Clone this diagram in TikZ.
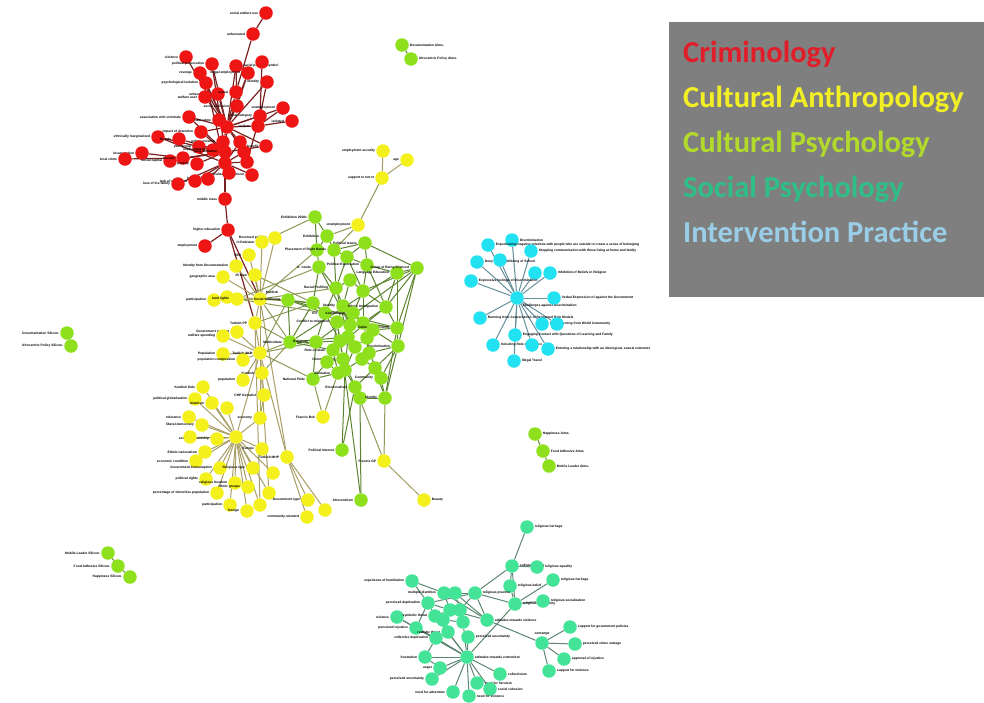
\documentclass[tikz,border=0pt]{standalone}
\usepackage{fontspec}
\setmainfont{Liberation Sans}
\newfontfamily\legfont{Carlito}
\pgfdeclarelayer{bg}
\pgfsetlayers{bg,main}
\definecolor{nred}{HTML}{EE1515}
\definecolor{nyel}{HTML}{F4F01C}
\definecolor{ngrn}{HTML}{8EE01C}
\definecolor{ncya}{HTML}{22E2F2}
\definecolor{ntea}{HTML}{44E498}
\definecolor{ered}{HTML}{7A2222}
\definecolor{eyel}{HTML}{A89E66}
\definecolor{egrn}{HTML}{5C8430}
\definecolor{emix}{HTML}{8C9A56}
\definecolor{ecya}{HTML}{66909C}
\definecolor{etea}{HTML}{5E8672}
\definecolor{legbg}{HTML}{7F7F7F}
\definecolor{lred}{HTML}{E01E2A}
\definecolor{lyel}{HTML}{F2F024}
\definecolor{lgrn}{HTML}{B2DA2C}
\definecolor{ltea}{HTML}{30BE88}
\definecolor{lblu}{HTML}{9ACEE6}
\tikzset{
 nd/.style={circle,inner sep=0pt,minimum size=13.5pt,draw=none},
 rn/.style={nd,fill=nred}, yn/.style={nd,fill=nyel}, gn/.style={nd,fill=ngrn},
 cn/.style={nd,fill=ncya}, tn/.style={nd,fill=ntea},
 lab/.style={font=\fontsize{3.3}{3.6}\selectfont\bfseries,text=black,inner sep=0.3pt,label distance=0.5pt},
 re/.style={draw=ered,line width=1.2pt}, ye/.style={draw=eyel,line width=1pt},
 ge/.style={draw=egrn,line width=1pt}, me/.style={draw=emix,line width=1pt},
 ce/.style={draw=ecya,line width=1pt}, te/.style={draw=etea,line width=1pt},
 legtxt/.style={anchor=base west,inner sep=0pt,font=\legfont\bfseries\fontsize{30.5}{32}\selectfont}
}
\newcommand\mk[6]{\node[#1,label={[lab]#5:#6}] (#2) at (#3,#4) {};}
\begin{document}
\begin{tikzpicture}[x=1pt,y=-1pt]
\useasboundingbox (0,0) rectangle (984,702);
\begin{pgfonlayer}{bg}
\fill[white] (0,0) rectangle (984,702);
\end{pgfonlayer}
% ---------- legend ----------
\node[fill=legbg,minimum width=315pt,minimum height=275pt,anchor=north west,inner sep=0pt] (legbox) at (669,22) {};
\node[legtxt,text=lred] (lg1) at (683,62) {Criminology};
\node[legtxt,text=lyel] (lg2) at (683,107) {Cultural Anthropology};
\node[legtxt,text=lgrn] (lg3) at (683,152) {Cultural Psychology};
\node[legtxt,text=ltea] (lg4) at (683,197) {Social Psychology};
\node[legtxt,text=lblu] (lg5) at (683,242) {Intervention Practice};
% ---------- red ----------
\mk{rn}{r1}{266}{13}{left}{social welfare use}
\mk{rn}{r2}{253}{34}{left}{unfavoured}
\mk{rn}{r3}{186}{57}{left}{violence}
\mk{rn}{r4}{212}{64}{left}{political persecution}
\mk{rn}{r5}{236}{66}{right}{racial political symbol}
\mk{rn}{r6}{262}{62}{left}{}
\mk{rn}{r7}{200}{73}{left}{revenge}
\mk{rn}{r8}{248}{73}{left}{illegal employment}
\mk{rn}{r9}{206}{83}{left}{psychological isolation}
\mk{rn}{r10}{267}{82}{left}{identity}
\mk{rn}{r11}{218}{94}{left}{unfavourable}
\mk{rn}{r12}{236}{92}{left}{social}
\mk{rn}{r13}{205}{97}{left}{welfare user}
\mk{rn}{r14}{237}{106}{left}{social exclusion}
\mk{rn}{r15}{283}{108}{left}{unemployment}
\mk{rn}{r16}{189}{117}{left}{association with criminals}
\mk{rn}{r17}{260}{116}{left}{social category}
\mk{rn}{r18}{219}{120}{left}{hate crime}
\mk{rn}{r19}{292}{121}{left}{isolated}
\mk{rn}{r20}{258}{126}{left}{welfare}
\mk{rn}{r21}{227}{127}{left}{}
\mk{rn}{r22}{158}{137}{left}{ethnically marginalized}
\mk{rn}{r23}{179}{139}{left}{friends}
\mk{rn}{r24}{201}{132}{left}{impact of detention}
\mk{rn}{r25}{223}{142}{left}{police violence}
\mk{rn}{r26}{240}{142}{left}{}
\mk{rn}{r27}{266}{146}{left}{benefit}
\mk{rn}{r28}{142}{153}{left}{incarceration}
\mk{rn}{r29}{125}{159}{left}{local crime}
\mk{rn}{r30}{199}{147}{left}{peer group}
\mk{rn}{r31}{213}{150}{left}{imprisonment}
\mk{rn}{r32}{170}{161}{left}{social capital}
\mk{rn}{r33}{183}{158}{left}{income}
\mk{rn}{r34}{197}{164}{left}{poverty}
\mk{rn}{r35}{225}{152}{left}{gang affiliation}
\mk{rn}{r36}{225}{163}{left}{}
\mk{rn}{r37}{244}{152}{left}{}
\mk{rn}{r38}{247}{162}{left}{}
\mk{rn}{r39}{252}{175}{left}{radicalization in prison}
\mk{rn}{r40}{229}{173}{left}{}
\mk{rn}{r41}{208}{179}{left}{bullying}
\mk{rn}{r42}{195}{181}{left}{lack of resources}
\mk{rn}{r43}{178}{184}{left}{loss of the family}
\mk{rn}{r44}{225}{199}{left}{middle class}
\mk{rn}{r45}{228}{230}{left}{higher education}
\mk{rn}{r46}{205}{246}{left}{employment}
% ---------- yellow ----------
\mk{yn}{y1}{383}{151}{left}{employment security}
\mk{yn}{y2}{407}{160}{left}{age}
\mk{yn}{y3}{382}{178}{left}{support to terror}
\mk{yn}{y4}{358}{225}{left}{unemployment}
\mk{yn}{y5}{275}{238}{left}{Reserved policies}
\mk{yn}{y6}{262}{242}{left}{in Pakistan}
\mk{yn}{y7}{249}{255}{left}{SSR}
\mk{yn}{y8}{236}{266}{left}{Identity from Documentation}
\mk{yn}{y9}{255}{275}{left}{IR view}
\mk{yn}{y10}{223}{277}{left}{geographic area}
\mk{yn}{y11}{260}{299}{above right}{Kurdish}
\mk{yn}{y12}{214}{300}{left}{participation}
\mk{yn}{y13}{227}{297}{left}{}
\mk{yn}{y14}{237}{299}{left}{land rights}
\mk{yn}{y15}{255}{323}{left}{Turkish PP}
\mk{yn}{y16}{237}{332}{left}{Government support}
\mk{yn}{y17}{223}{336}{left}{welfare spending}
\mk{yn}{y18}{260}{353}{left}{Turkish AKP}
\mk{yn}{y19}{223}{354}{left}{Population}
\mk{yn}{y20}{243}{360}{left}{population composition}
\mk{yn}{y21}{262}{373}{left}{Kurdish}
\mk{yn}{y22}{243}{380}{left}{population}
\mk{yn}{y23}{264}{395}{left}{CHP Kemalist}
\mk{yn}{y24}{203}{387}{left}{Kurdish Kids}
\mk{yn}{y25}{195}{399}{left}{political globalisation}
\mk{yn}{y26}{212}{403}{left}{Islamism}
\mk{yn}{y27}{227}{408}{left}{}
\mk{yn}{y28}{260}{418}{left}{economy}
\mk{yn}{y29}{189}{417}{left}{tolerance}
\mk{yn}{y30}{202}{425}{left}{liberal democracy}
\mk{yn}{y31}{236}{437}{left}{}
\mk{yn}{y32}{217}{439}{left}{economic hardship}
\mk{yn}{y33}{190}{437}{left}{}
\mk{yn}{y34}{262}{449}{left}{Europe}
\mk{yn}{y35}{205}{452}{left}{Ethnic nationalism}
\mk{yn}{y36}{287}{457}{left}{Turkish MHP}
\mk{yn}{y37}{196}{461}{left}{economic condition}
\mk{yn}{y38}{220}{468}{left}{Government Consumption}
\mk{yn}{y39}{253}{468}{left}{Religious type}
\mk{yn}{y40}{273}{473}{left}{}
\mk{yn}{y41}{206}{479}{left}{political rights}
\mk{yn}{y42}{235}{483}{left}{religious freedom}
\mk{yn}{y43}{248}{487}{left}{ethnic groups}
\mk{yn}{y44}{217}{493}{left}{percentage of minorities population}
\mk{yn}{y45}{269}{493}{left}{}
\mk{yn}{y46}{260}{505}{left}{}
\mk{yn}{y47}{230}{505}{left}{participation}
\mk{yn}{y48}{247}{511}{left}{foreign}
\mk{yn}{y49}{308}{500}{left}{Government type}
\mk{yn}{y50}{325}{510}{left}{}
\mk{yn}{y51}{307}{517}{left}{community-oriented}
\mk{yn}{y52}{323}{417}{left}{Francis Bok}
\mk{yn}{y53}{384}{461}{left}{Francis GP}
\mk{yn}{y54}{424}{500}{right}{Beauty}
% ---------- green ----------
\mk{gn}{g1}{315}{217}{left}{Exhibition 2000s}
\mk{gn}{g2}{327}{236}{left}{Exhibition}
\mk{gn}{g3}{365}{243}{left}{Political Issues}
\mk{gn}{g4}{317}{250}{left}{}
\mk{gn}{g5}{334}{250}{left}{Placement of Right Hands}
\mk{gn}{g6}{347}{257}{left}{}
\mk{gn}{g7}{319}{267}{left}{Ir. needs}
\mk{gn}{g8}{367}{265}{left}{Political Expectation}
\mk{gn}{g9}{397}{273}{left}{Language Education}
\mk{gn}{g10}{417}{268}{left}{Group of Being Silenced}
\mk{gn}{g11}{336}{288}{left}{Racial Profiling}
\mk{gn}{g12}{363}{291}{left}{}
\mk{gn}{g13}{313}{303}{left}{}
\mk{gn}{g14}{343}{306}{left}{Identity}
\mk{gn}{g15}{386}{307}{left}{Ethnic Immigration}
\mk{gn}{g16}{325}{313}{left}{EU}
\mk{gn}{g17}{353}{313}{left}{Assimilation}
\mk{gn}{g18}{337}{322}{left}{Conflict re-migration}
\mk{gn}{g19}{363}{323}{left}{}
\mk{gn}{g20}{397}{328}{left}{Cultural Experience}
\mk{gn}{g21}{290}{342}{left}{Multiculture}
\mk{gn}{g22}{316}{342}{left}{Religious}
\mk{gn}{g23}{340}{341}{left}{}
\mk{gn}{g24}{348}{337}{left}{}
\mk{gn}{g25}{367}{338}{left}{}
\mk{gn}{g26}{398}{346}{left}{Discrimination}
\mk{gn}{g27}{333}{350}{left}{Role of Islam}
\mk{gn}{g28}{355}{347}{left}{}
\mk{gn}{g29}{343}{359}{left}{Communalism}
\mk{gn}{g30}{362}{359}{left}{}
\mk{gn}{g31}{369}{353}{left}{}
\mk{gn}{g32}{313}{379}{left}{National Pride}
\mk{gn}{g33}{345}{370}{left}{}
\mk{gn}{g34}{355}{387}{left}{Emotionalism}
\mk{gn}{g35}{381}{378}{left}{Community}
\mk{gn}{g36}{360}{398}{left}{}
\mk{gn}{g37}{385}{398}{left}{Identity}
\mk{gn}{g38}{338}{373}{left}{Alienation}
\mk{gn}{g39}{288}{300}{left}{Social Wellbeing}
\mk{gn}{g40}{342}{450}{left}{Political Interest}
\mk{gn}{g41}{361}{500}{left}{Afrocentrism}
\mk{gn}{g43}{350}{325}{left}{}
\mk{gn}{g44}{373}{330}{left}{}
\mk{gn}{g45}{327}{362}{left}{}
\mk{gn}{g46}{375}{368}{left}{}
\mk{gn}{g47}{350}{280}{left}{}
% ---------- cyan ----------
\mk{cn}{c0}{517}{298}{below right}{Challenges against Discrimination}
\mk{cn}{c1}{512}{240}{right}{Discrimination}
\mk{cn}{c2}{488}{245}{right}{Experiencing negative relations with people who are outside to create a sense of belonging}
\mk{cn}{c3}{531}{251}{right}{Stopping communication with those living at home and family}
\mk{cn}{c4}{477}{262}{right}{Deny to the Wellbeing of School}
\mk{cn}{c5}{500}{260}{left}{}
\mk{cn}{c6}{550}{273}{right}{Inhibition of Beliefs in Religion}
\mk{cn}{c7}{535}{273}{left}{}
\mk{cn}{c8}{471}{281}{right}{Expressive feelings of Discrimination}
\mk{cn}{c9}{554}{298}{right}{Verbal Expression of against the Government}
\mk{cn}{c10}{480}{318}{right}{Running from Conversation of Respected Role Models}
\mk{cn}{c11}{542}{324}{right}{Disconnecting from World Community}
\mk{cn}{c12}{557}{324}{left}{}
\mk{cn}{c13}{515}{335}{right}{Engaging Contact with Questions of Learning and Family}
\mk{cn}{c14}{493}{345}{right}{Including Role of Violence}
\mk{cn}{c15}{532}{345}{left}{}
\mk{cn}{c16}{548}{349}{right}{Entering a relationship with an ideological, sexual extremist}
\mk{cn}{c17}{514}{361}{right}{Illegal Travel}
% ---------- teal ----------
\mk{tn}{t1}{527}{527}{right}{religious heritage}
\mk{tn}{t2}{512}{566}{right}{cultural identity}
\mk{tn}{t3}{537}{567}{right}{religious equality}
\mk{tn}{t4}{553}{580}{right}{religious heritage}
\mk{tn}{t5}{510}{586}{right}{religious belief}
\mk{tn}{t6}{475}{593}{right}{religious practice}
\mk{tn}{t7}{515}{604}{right}{religious community}
\mk{tn}{t8}{543}{601}{right}{religious socialization}
\mk{tn}{t9}{412}{581}{left}{experience of humiliation}
\mk{tn}{t10}{444}{593}{left}{multiple identities}
\mk{tn}{t11}{455}{593}{left}{}
\mk{tn}{t12}{428}{603}{left}{perceived deprivation}
\mk{tn}{t13}{450}{610}{left}{}
\mk{tn}{t14}{460}{610}{left}{}
\mk{tn}{t15}{487}{620}{right}{attitudes towards violence}
\mk{tn}{t16}{397}{617}{left}{violence}
\mk{tn}{t17}{435}{616}{left}{symbolic threat}
\mk{tn}{t18}{443}{620}{right}{}
\mk{tn}{t19}{463}{622}{left}{}
\mk{tn}{t20}{416}{628}{left}{perceived injustice}
\mk{tn}{t21}{448}{632}{left}{realistic threat}
\mk{tn}{t22}{468}{637}{right}{perceived uncertainty}
\mk{tn}{t23}{436}{638}{left}{collective deprivation}
\mk{tn}{t24}{542}{643}{above}{contempt}
\mk{tn}{t25}{570}{627}{right}{support for government policies}
\mk{tn}{t26}{575}{644}{right}{perceived crime outrage}
\mk{tn}{t27}{564}{659}{right}{approval of injustice}
\mk{tn}{t28}{549}{671}{right}{support for violence}
\mk{tn}{t29}{467}{657}{right}{attitudes towards extremism}
\mk{tn}{t30}{425}{657}{left}{frustration}
\mk{tn}{t31}{440}{668}{left}{anger}
\mk{tn}{t32}{432}{679}{left}{perceived uncertainty}
\mk{tn}{t33}{500}{674}{right}{collectivism}
\mk{tn}{t34}{477}{683}{right}{need for heroism}
\mk{tn}{t35}{490}{689}{right}{social cohesion}
\mk{tn}{t36}{453}{692}{left}{need for adventure}
\mk{tn}{t37}{469}{696}{right}{need for violence}
% ---------- small groups ----------
\mk{gn}{p1}{402}{45}{right}{Documentation Aims.}
\mk{gn}{p2}{411}{59}{right}{Afrocentric Policy Aims.}
\mk{gn}{p3}{67}{333}{left}{Documentation Silicon.}
\mk{gn}{p4}{71}{346}{left}{Afrocentric Policy Silicon.}
\mk{gn}{p5}{535}{434}{right}{Happiness Aims.}
\mk{gn}{p6}{543}{451}{right}{Food Adhesive Aims.}
\mk{gn}{p7}{549}{466}{right}{Mobile Leader Aims.}
\mk{gn}{p8}{108}{553}{left}{Mobile Leader Silicon.}
\mk{gn}{p9}{118}{566}{left}{Food Adhesive Silicon.}
\mk{gn}{p10}{130}{577}{left}{Happiness Silicon.}
% ---------- edges ----------
\begin{pgfonlayer}{bg}
\foreach \a/\b in {r1/r2,r2/r12,r12/r21,r3/r21,r4/r21,r5/r21,r6/r17,r7/r21,r8/r14,r9/r21,r10/r20,r11/r21,r13/r21,r14/r21,r15/r20,r16/r21,r17/r21,r18/r21,r19/r20,r20/r21,r22/r31,r23/r35,r24/r21,r25/r21,r26/r21,r27/r35,r28/r33,r29/r33,r30/r35,r31/r35,r32/r35,r33/r35,r34/r35,r21/r35,r35/r36,r36/r37,r36/r38,r36/r39,r36/r40,r36/r41,r36/r42,r36/r43,r36/r44,r44/r45,r45/r46,r5/r14,r26/r36,r24/r35,r16/r35,r21/r37,r17/r38,r27/r21,r8/r21,r10/r21,r4/r35,r9/r36,r15/r21,r22/r36}
  \draw[re] (\a) -- (\b);
\draw[re] (r45) -- (y15);
\draw[re] (r45) -- (y11);
\foreach \a/\b in {y1/y3,y2/y3,y5/y11,y6/y11,y7/y11,y8/y11,y9/y11,y10/y11,y12/y11,y13/y11,y14/y11,y11/y15,y15/y18,y16/y18,y17/y18,y19/y18,y20/y18,y18/y21,y21/y23,y22/y18,y23/y28,y28/y31,y24/y31,y25/y31,y26/y31,y27/y31,y29/y31,y30/y31,y32/y31,y33/y31,y34/y31,y35/y31,y37/y31,y38/y31,y39/y31,y40/y31,y41/y31,y42/y31,y43/y31,y44/y31,y45/y31,y46/y31,y47/y31,y48/y31,y11/y36,y18/y36,y36/y49,y36/y50,y36/y51,y53/y54,y18/y31,y11/y28,y15/y46,y18/y45}
  \draw[ye] (\a) -- (\b);
\foreach \a/\b in {y3/y4,y4/g2,y4/g5,y11/g39,y11/g21,y11/g13,y11/g4,y15/g21,y18/g21,y18/g22,y18/g39,y14/g7,y9/g13,y21/g21,y52/g32,y52/g38,y53/g34,y53/g37,y6/g1,y15/g13,y18/g32,y11/g11,y14/g16}
  \draw[me] (\a) -- (\b);
\foreach \a/\b in {g1/g4,g1/g2,g2/g5,g2/g4,g3/g6,g3/g8,g3/g5,g4/g7,g5/g6,g5/g11,g6/g8,g6/g12,g7/g11,g7/g13,g8/g9,g8/g12,g9/g10,g9/g15,g10/g15,g10/g12,g11/g14,g11/g16,g12/g15,g12/g17,g13/g16,g13/g21,g14/g17,g14/g18,g15/g20,g15/g19,g16/g18,g16/g22,g17/g19,g17/g24,g18/g23,g18/g27,g19/g25,g19/g20,g20/g26,g20/g44,g21/g22,g21/g27,g21/g24,g22/g23,g22/g32,g23/g24,g23/g29,g24/g28,g25/g28,g25/g31,g26/g31,g26/g35,g27/g29,g27/g38,g28/g30,g29/g33,g30/g31,g30/g33,g31/g35,g32/g38,g33/g34,g33/g38,g34/g36,g35/g37,g36/g37,g38/g45,g45/g32,g43/g17,g43/g28,g43/g18,g44/g25,g44/g26,g46/g35,g46/g30,g47/g12,g47/g11,g47/g14,g39/g13,g39/g21,g39/g16,g40/g34,g40/g33,g41/g36,g41/g29,g10/g20,g3/g10,g8/g15,g11/g24,g14/g43,g12/g19,g24/g33,g29/g36,g26/g37,g9/g20,g19/g44,g6/g11,g14/g19,g16/g23,g18/g29,g23/g28,g28/g33,g10/g26,g10/g22,g9/g21,g15/g27,g20/g37,g26/g34,g39/g20,g7/g43,g45/g29,g46/g37}
  \draw[ge] (\a) -- (\b);
\foreach \n in {1,...,17} \draw[ce] (c0) -- (c\n);
\foreach \a/\b in {t1/t2,t2/t3,t2/t5,t2/t7,t6/t2,t7/t4,t7/t8,t7/t5,t7/t6,t7/t29,t6/t11,t6/t10,t6/t14,t6/t12,t6/t15,t15/t24,t24/t25,t24/t26,t24/t27,t24/t28,t15/t13,t15/t11,t15/t10,t9/t12,t9/t10,t29/t36,t29/t37,t29/t34,t29/t35,t29/t33,t29/t31,t29/t32,t29/t30,t29/t23,t29/t22,t29/t21,t29/t19,t29/t17,t29/t16,t29/t20,t30/t31,t30/t23,t16/t20,t12/t20,t23/t21,t10/t13,t11/t14,t17/t18,t12/t13,t20/t23,t17/t13,t18/t19,t12/t17}
  \draw[te] (\a) -- (\b);
\draw[ge] (p1) -- (p2);
\draw[ge] (p3) -- (p4);
\draw[ge] (p5) -- (p6);
\draw[ge] (p6) -- (p7);
\draw[ge] (p8) -- (p9);
\draw[ge] (p9) -- (p10);
\end{pgfonlayer}
\end{tikzpicture}
\end{document}
